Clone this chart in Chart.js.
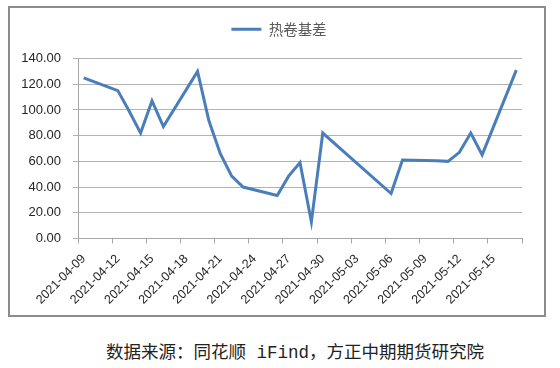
<!DOCTYPE html>
<html>
<head>
<meta charset="utf-8">
<script src="https://cdn.jsdelivr.net/npm/chart.js@4.4.0/dist/chart.umd.min.js"></script>
<style>
  body { margin: 0; background: #fff; width: 560px; height: 368px; position: relative; overflow: hidden; }
  #box { position: absolute; left: 8px; top: 6px; width: 538px; height: 311px; border: 2px solid #8c8c8c; box-sizing: border-box; }
  #chart { position: absolute; left: -1px; top: -1px; }
  #source { position: absolute; left: 95px; top: 338px; width: 400px; text-align: center;
    font: 17.5px "Liberation Mono", "Noto Sans CJK SC", monospace; color: #222; white-space: nowrap; }
</style>
</head>
<body>
<div id="box"><canvas id="chart" width="536" height="309"></canvas></div>
<div id="source">数据来源：同花顺 iFind，方正中期期货研究院</div>
<script>
// 热卷基差 daily values (trading days only)
const dates = [
    "2021-04-09", "2021-04-12", "2021-04-13", "2021-04-14", "2021-04-15", "2021-04-16",
    "2021-04-19", "2021-04-20", "2021-04-21", "2021-04-22", "2021-04-23",
    "2021-04-26", "2021-04-27", "2021-04-28", "2021-04-29", "2021-04-30",
    "2021-05-06", "2021-05-07", "2021-05-10", "2021-05-11", "2021-05-12", "2021-05-13", "2021-05-14",
    "2021-05-17"
];
const basis = [
    125, 115, 99, 82, 107, 87,
    130, 91.5, 66, 48.5, 40,
    33.5, 48.5, 59, 13, 82,
    35, 61, 60.5, 60, 67, 82, 65,
    131
];
const seriesName = "热卷基差";
const startDate = "2021-04-09";
const yTicks = [0, 20, 40, 60, 80, 100, 120, 140];

const DAY = 24 * 60 * 60 * 1000;
const t0 = Date.parse(startDate + "T00:00:00Z");

function dayIndex(d) {
    return Math.round((Date.parse(d + "T00:00:00Z") - t0) / DAY);
}

function dayLabel(i) {
    return new Date(t0 + i * DAY).toISOString().slice(0, 10);
}

// each day takes one slot, the point sits in the middle of it
const points = dates.map((d, i) => ({ x: dayIndex(d) + 0.5, y: basis[i] }));
const lastDay = dayIndex(dates[dates.length - 1]) + 1;

// leave some room between the legend and the plot
const legendGap = {
    id: "legendGap",
    afterInit(chart) {
        const fit = chart.legend.fit;
        chart.legend.fit = function () {
            fit.call(this);
            this.height += 12;
        };
    },
};

const ctx = document.getElementById("chart").getContext("2d");
new Chart(ctx, {
    type: "line",
    data: {
        datasets: [
            {
                label: seriesName,
                data: points,
                borderColor: "#4a7ebb",
                backgroundColor: "#4a7ebb",
                borderWidth: 3,
                pointRadius: 0,
                tension: 0,
            },
        ],
    },
    plugins: [legendGap],
    options: {
        responsive: false,
        animation: false,
        layout: { padding: { top: 5, right: 0, left: 4, bottom: 0 } },
        plugins: {
            legend: {
                position: "top",
                labels: {
                    usePointStyle: true,
                    pointStyle: "line",
                    pointStyleWidth: 30,
                    boxHeight: 8,
                    padding: 10,
                    color: "#595959",
                    font: { family: "'Noto Sans CJK SC'", size: 14.5 },
                },
            },
            tooltip: { enabled: false },
        },
        scales: {
            x: {
                type: "linear",
                min: 0,
                max: lastDay,
                afterFit: (s) => { s.height = 77.5; },
                afterBuildTicks: (s) => {
                    const ticks = [];
                    for (let i = 0; i <= lastDay; i += 3) ticks.push({ value: i });
                    s.ticks = ticks;
                },
                ticks: {
                    autoSkip: false,
                    maxRotation: 45,
                    minRotation: 45,
                    padding: 8,
                    labelOffset: 5.7,
                    color: "#262626",
                    font: { family: "'Liberation Sans'", size: 12.5 },
                    callback: (v) => (v >= lastDay ? "" : dayLabel(v)),
                },
                grid: { drawOnChartArea: false, tickLength: 5, color: "#a6a6a6" },
                border: { color: "#a6a6a6" },
            },
            y: {
                min: 0,
                max: 140,
                afterFit: (s) => { s.width = 65; },
                afterBuildTicks: (s) => { s.ticks = yTicks.map((v) => ({ value: v })); },
                ticks: {
                    padding: 12,
                    color: "#262626",
                    font: { family: "'Liberation Sans'", size: 13 },
                    callback: (v) => Number(v).toFixed(2),
                },
                grid: { color: "#b3b3b3", tickLength: 5 },
                border: { color: "#a6a6a6" },
            },
            // empty right margin, keeps the legend centred on the whole box
            margin: {
                position: "right",
                afterFit: (s) => { s.width = 23; },
                ticks: { display: false },
                grid: { display: false },
                border: { display: false },
            },
        },
    },
});
</script>
</body>
</html>
